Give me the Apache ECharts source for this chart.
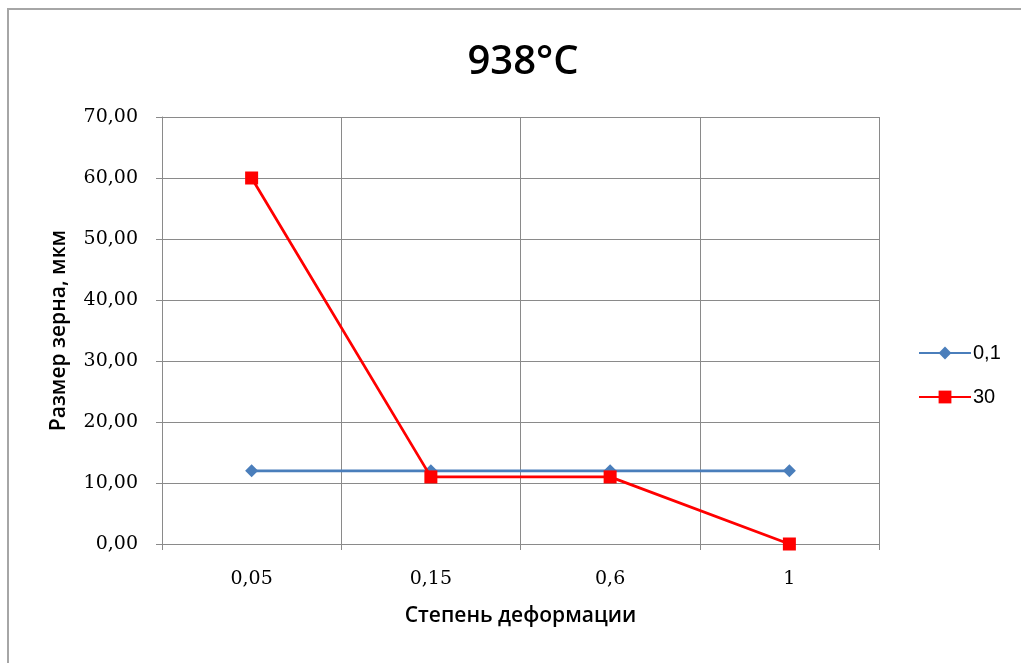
<!DOCTYPE html>
<html>
<head>
<meta charset="utf-8">
<script src="https://cdn.jsdelivr.net/npm/echarts@6/dist/echarts.min.js"></script>
<style>
  html, body { margin: 0; padding: 0; background: #fff; }
  #frame { position: absolute; left: 7px; top: 8px; width: 1030px; height: 670px;
           border: 2px solid #a6a6a6; box-sizing: border-box; }
  #chart { position: absolute; left: 0; top: 0; width: 1021px; height: 663px; }
</style>
</head>
<body>
<div id="frame"></div>
<div id="chart"></div>
<script>
// Degree of deformation (categories) and grain size, µm
const categories = ['0,05', '0,15', '0,6', '1'];
const series01 = [12, 12, 12, 12];
const series30 = [60, 11, 11, 0];
const seriesNames = ['0,1', '30'];
const yTicks = { min: 0, max: 70, interval: 10 };

const chart = echarts.init(document.getElementById('chart'), null, { renderer: 'canvas' });

const tickFont = { fontFamily: 'DejaVu Serif', fontSize: 19, color: '#000' };
const titleFont = { fontFamily: 'Open Sans', fontWeight: 600, fontSize: 21, color: '#000' };
const gridLine = { show: true, lineStyle: { color: '#8a8a8a', width: 1 } };

chart.setOption({
  backgroundColor: 'transparent',
  animation: false,
  title: {
    text: '938°C',
    left: 518, top: 38, textAlign: 'center',
    textStyle: { fontFamily: 'Open Sans', fontWeight: 600, fontSize: 40, color: '#000' }
  },
  grid: { left: 162, top: 117, width: 717, height: 427, containLabel: false },
  legend: {
    orient: 'vertical',
    left: 913, top: 338,
    itemWidth: 52, itemHeight: 16, itemGap: 24,
    textStyle: { fontFamily: 'Liberation Sans', fontSize: 20, color: '#000', padding: [0, 0, 0, -3] },
    data: [seriesNames[0], seriesNames[1]]
  },
  xAxis: {
    type: 'category',
    data: categories,
    boundaryGap: true,
    name: 'Степень деформации',
    nameLocation: 'middle',
    nameGap: 62,
    nameTextStyle: titleFont,
    axisLine: { show: true, lineStyle: { color: '#8a8a8a', width: 1 } },
    axisTick: { show: true, length: 6, alignWithLabel: false, lineStyle: { color: '#8a8a8a' } },
    axisLabel: Object.assign({ margin: 26 }, tickFont),
    splitLine: gridLine
  },
  yAxis: {
    type: 'value',
    min: yTicks.min, max: yTicks.max, interval: yTicks.interval,
    name: 'Размер зерна, мкм',
    nameLocation: 'middle',
    nameGap: 92,
    nameRotate: 90,
    nameTextStyle: titleFont,
    axisLine: { show: true, lineStyle: { color: '#8a8a8a', width: 1 } },
    axisTick: { show: true, length: 6, lineStyle: { color: '#8a8a8a' } },
    axisLabel: Object.assign({
      margin: 24,
      formatter: v => v.toFixed(2).replace('.', ',')
    }, tickFont),
    splitLine: gridLine
  },
  series: [
    {
      name: seriesNames[0],
      type: 'line',
      data: series01,
      symbol: 'diamond',
      symbolSize: 13,
      itemStyle: { color: '#4a7ebb' },
      lineStyle: { color: '#4a7ebb', width: 2.75 },
      z: 2
    },
    {
      name: seriesNames[1],
      type: 'line',
      data: series30,
      symbol: 'rect',
      symbolSize: 13,
      itemStyle: { color: '#ff0000' },
      lineStyle: { color: '#ff0000', width: 2.75 },
      z: 3
    }
  ]
});
</script>
</body>
</html>
